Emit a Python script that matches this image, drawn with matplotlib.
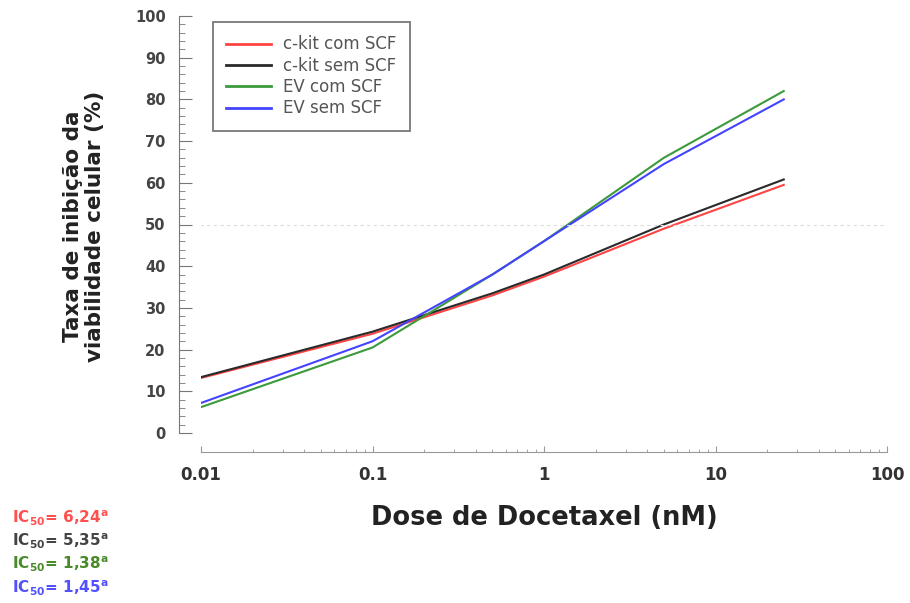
import matplotlib

matplotlib.use("Agg")
import matplotlib.pyplot as plt
from matplotlib.ticker import LogLocator, MultipleLocator, NullFormatter

plt.rcParams["font.family"] = ["DejaVu Sans"]

# doses (nM) and inhibition of cell viability (%)
doses = [0.01, 0.1, 0.5, 1, 5, 25]
ckit_com = [13.2, 23.8, 33.0, 37.5, 49.0, 59.5]
ckit_sem = [13.4, 24.3, 33.5, 38.0, 50.0, 60.8]
ev_com = [6.2, 20.5, 38.0, 46.0, 66.0, 82.0]
ev_sem = [7.2, 22.0, 38.0, 46.0, 64.5, 80.0]

series_names = ["c-kit com SCF", "c-kit sem SCF", "EV com SCF", "EV sem SCF"]
series_colors = ["#ff4444", "#2a2a2a", "#3c9a3c", "#4444ff"]
ic50_colors = ["#ff5050", "#444444", "#4a8a2a", "#5050ff"]
ic50_values = ["6,24", "5,35", "1,38", "1,45"]

x_ticks = [0.01, 0.1, 1, 10, 100]
x_ticklabels = ["0.01", "0.1", "1", "10", "100"]
y_ticks = list(range(0, 101, 10))

W, H = 910, 603
fig = plt.figure(figsize=(W / 100, H / 100), dpi=100)
ax = fig.add_axes([201 / W, 1 - 433 / H, (887 - 201) / W, (433 - 16) / H])

for vals, name, col in zip([ckit_com, ckit_sem, ev_com, ev_sem],
                           series_names, series_colors):
    ax.plot(doses, vals, color=col, lw=1.5, label=name)

# dotted reference line at 50 %
ax.axhline(50, color="#dddddd", lw=0.8, ls=(0, (3, 3)), xmin=-0.03)

ax.set_xscale("log")
ax.set_xlim(0.01, 100)
ax.set_ylim(0, 100)

for s in ["top", "right"]:
    ax.spines[s].set_visible(False)
ax.spines["left"].set_position(("outward", 16))
ax.spines["bottom"].set_position(("outward", 13.7))
ax.spines["left"].set_color("#777777")
ax.spines["bottom"].set_color("#999999")

ax.set_xticks(x_ticks)
ax.set_xticklabels(x_ticklabels)
ax.xaxis.set_minor_locator(LogLocator(base=10, subs=range(2, 10)))
ax.xaxis.set_minor_formatter(NullFormatter())
ax.set_yticks(y_ticks)
ax.yaxis.set_minor_locator(MultipleLocator(2))

ax.tick_params(axis="x", which="major", direction="in", length=4.5,
               color="#999999", labelsize=12, pad=10)
ax.tick_params(axis="x", which="minor", direction="in", length=2.2,
               color="#999999")
ax.tick_params(axis="y", which="major", direction="in", length=9.5,
               color="#777777", labelsize=10.5, pad=9.4)
ax.tick_params(axis="y", which="minor", direction="in", length=4.5,
               color="#777777")
for lbl in ax.get_xticklabels():
    lbl.set_fontweight("bold")
    lbl.set_color("#333333")
for lbl in ax.get_yticklabels():
    lbl.set_fontweight("bold")
    lbl.set_color("#444444")

fig.text(544 / W, 1 - 518 / H, "Dose de Docetaxel (nM)", ha="center",
         va="center", fontsize=18.5, fontweight="bold", color="#222222")
fig.text(84 / W, 1 - 226 / H, "Taxa de inibição da\nviabilidade celular (%)",
         rotation=90, ha="center", va="center", fontsize=15.5,
         fontweight="bold", color="#222222", linespacing=1.15)

leg = ax.legend(loc="upper left",
                bbox_to_anchor=((213 - 201) / 686, (433 - 22) / 417),
                borderaxespad=0, fontsize=12, frameon=True, fancybox=False,
                handlelength=2.7, borderpad=0.8, labelspacing=0.2,
                handletextpad=0.7)
leg.get_frame().set_edgecolor("#555555")
leg.get_frame().set_linewidth(1.3)
for line in leg.get_lines():
    line.set_linewidth(2)
for t in leg.get_texts():
    t.set_color("#555555")

for i, (v, col) in enumerate(zip(ic50_values, ic50_colors)):
    fig.text(12 / W, 1 - (518 + 23.3 * i) / H,
             r"IC$_{\mathbf{50}}$= " + v + r"$^{\mathbf{a}}$",
             color=col, fontsize=11, va="center", ha="left",
             fontweight="bold")

fig.savefig("out.png", dpi=100, facecolor="white")
